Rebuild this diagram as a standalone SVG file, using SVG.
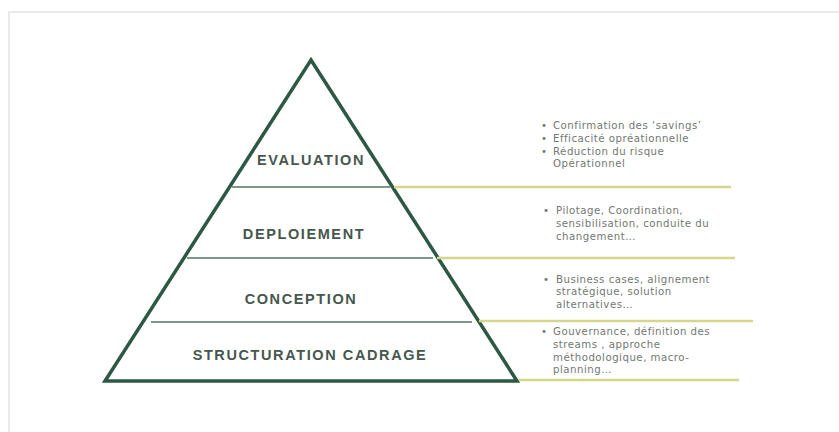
<svg xmlns="http://www.w3.org/2000/svg" width="839" height="432" viewBox="0 0 839 432">
  <style>
    .frame { fill: none; stroke: #e4e4e4; stroke-width: 1.5; }
    .outline { fill: #ffffff; stroke: #2d5843; stroke-width: 3.5; stroke-linejoin: miter; }
    .divider { stroke: #7c9688; stroke-width: 2; }
    .leader { stroke: #d5d58c; stroke-width: 2.5; }
    .tier { font-family: "Liberation Sans", Arial, sans-serif; font-weight: bold; font-size: 14.5px; letter-spacing: 1.6px; fill: #46574d; text-anchor: middle; }
    .note { font-family: "DejaVu Sans", Verdana, sans-serif; font-size: 10.2px; letter-spacing: 0.5px; fill: #727872; }
  </style>

  <!-- page frame -->
  <path class="frame" d="M9,432 V12 H839"/>

  <!-- pyramid outline -->
  <polygon class="outline" points="311,60 517,381 105,381"/>

  <!-- leader lines from each tier to its notes -->
  <g id="connectors">
    <line class="leader" x1="394" y1="187" x2="731" y2="187"/>
    <line class="leader" x1="437" y1="258" x2="735" y2="258"/>
    <line class="leader" x1="479" y1="321" x2="753" y2="321"/>
    <line class="leader" x1="519" y1="380" x2="739" y2="380"/>
  </g>

  <g id="tier-evaluation">
    <line class="divider" x1="232" y1="187" x2="390" y2="187"/>
    <text class="tier" x="311" y="165">EVALUATION</text>
    <text class="note" x="541" y="129">•</text>
    <text class="note" x="553" y="129">Confirmation des ‘savings’</text>
    <text class="note" x="541" y="142">•</text>
    <text class="note" x="553" y="142">Efficacité opréationnelle</text>
    <text class="note" x="541" y="155">•</text>
    <text class="note" x="553" y="155">Réduction du risque</text>
    <text class="note" x="553" y="167">Opérationnel</text>
  </g>

  <g id="tier-deploiement">
    <line class="divider" x1="187" y1="258" x2="433" y2="258"/>
    <text class="tier" x="304" y="238.5">DEPLOIEMENT</text>
    <text class="note" x="543" y="214">•</text>
    <text class="note" x="556" y="214">Pilotage, Coordination,</text>
    <text class="note" x="556" y="227">sensibilisation, conduite du</text>
    <text class="note" x="556" y="240">changement…</text>
  </g>

  <g id="tier-conception">
    <line class="divider" x1="151" y1="322" x2="472" y2="322"/>
    <text class="tier" x="301" y="303.5">CONCEPTION</text>
    <text class="note" x="543" y="283">•</text>
    <text class="note" x="556" y="283">Business cases, alignement</text>
    <text class="note" x="556" y="295">stratégique, solution</text>
    <text class="note" x="556" y="308">alternatives…</text>
  </g>

  <g id="tier-structuration">
    <text class="tier" x="310" y="359.5">STRUCTURATION CADRAGE</text>
    <text class="note" x="541" y="335">•</text>
    <text class="note" x="553" y="335">Gouvernance, définition des</text>
    <text class="note" x="553" y="348">streams , approche</text>
    <text class="note" x="553" y="361">méthodologique, macro-</text>
    <text class="note" x="553" y="373">planning…</text>
  </g>
</svg>
